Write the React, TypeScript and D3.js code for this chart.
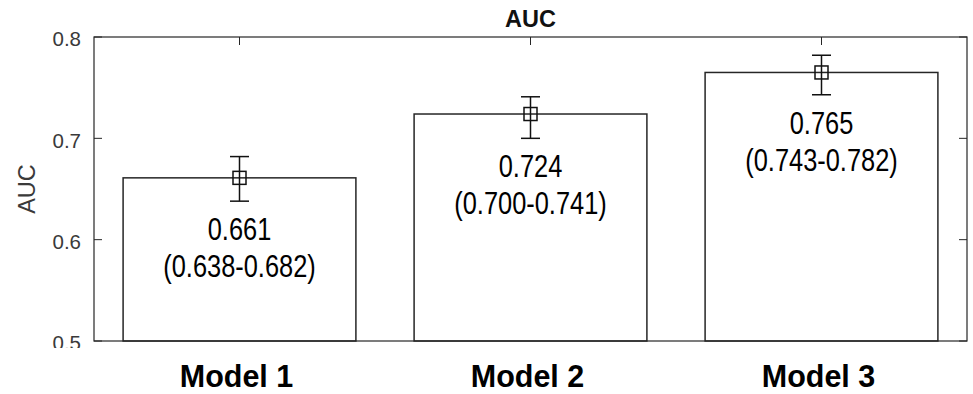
import React from "react";
import * as d3 from "d3";

// AUC per model with 95% confidence interval
const models = ["Model 1", "Model 2", "Model 3"];
const aucValues = [0.661, 0.724, 0.765];
const ciLower = [0.638, 0.7, 0.743];
const ciUpper = [0.682, 0.741, 0.782];
const yTicks = [0.5, 0.6, 0.7, 0.8];

const W = 973;
const H = 394;
const plot = { left: 94, right: 967, top: 37, bottom: 341 };

export default function App() {
  const x = d3
    .scaleLinear()
    .domain([0.5, models.length + 0.5])
    .range([plot.left, plot.right]);
  const y = d3.scaleLinear().domain([0.5, 0.8]).range([plot.bottom, plot.top]);
  const barW = x(1.4) - x(0.6);
  const fmtTick = d3.format(".1f");
  const fmtVal = d3.format(".3f");
  const axisColor = "#262626";
  const tickLen = 8;
  const capHalf = 9.5;
  const markerSize = 13;

  return (
    <svg
      width={W}
      height={H}
      viewBox={`0 0 ${W} ${H}`}
      style={{ position: "absolute", left: 0, top: 0, background: "#fff" }}
    >
      <rect x={0} y={0} width={W} height={H} fill="#fff" />

      {/* inward ticks on all four sides */}
      <g stroke={axisColor} strokeWidth={1}>
        {yTicks.map((t) => (
          <g key={`yt${t}`}>
            <line x1={plot.left} x2={plot.left + tickLen} y1={y(t)} y2={y(t)} />
            <line x1={plot.right} x2={plot.right - tickLen} y1={y(t)} y2={y(t)} />
          </g>
        ))}
        {models.map((m, i) => (
          <g key={`xt${m}`}>
            <line x1={x(i + 1)} x2={x(i + 1)} y1={plot.top} y2={plot.top + tickLen} />
            <line x1={x(i + 1)} x2={x(i + 1)} y1={plot.bottom} y2={plot.bottom - tickLen} />
          </g>
        ))}
      </g>

      {/* bars */}
      {models.map((m, i) => (
        <rect
          key={`bar${m}`}
          x={x(i + 1) - barW / 2}
          y={y(aucValues[i])}
          width={barW}
          height={y(0.5) - y(aucValues[i])}
          fill="#fff"
          stroke={axisColor}
          strokeWidth={1.5}
        />
      ))}

      {/* axes box */}
      <rect
        x={plot.left}
        y={plot.top}
        width={plot.right - plot.left}
        height={plot.bottom - plot.top}
        fill="none"
        stroke={axisColor}
        strokeWidth={1.2}
      />

      {/* error bars with square markers */}
      <g stroke="#111" strokeWidth={1.5} fill="none">
        {models.map((m, i) => {
          const cx = x(i + 1);
          return (
            <g key={`err${m}`}>
              <line x1={cx} x2={cx} y1={y(ciUpper[i])} y2={y(ciLower[i])} />
              <line x1={cx - capHalf} x2={cx + capHalf} y1={y(ciUpper[i])} y2={y(ciUpper[i])} />
              <line x1={cx - capHalf} x2={cx + capHalf} y1={y(ciLower[i])} y2={y(ciLower[i])} />
              <rect
                x={cx - markerSize / 2}
                y={y(aucValues[i]) - markerSize / 2}
                width={markerSize}
                height={markerSize}
              />
            </g>
          );
        })}
      </g>

      {/* value labels, set in a condensed face */}
      {models.map((m, i) => {
        const cx = x(i + 1);
        const base = y(ciLower[i]) + 39;
        return (
          <text
            key={`lab${m}`}
            transform={`translate(${cx}, ${base}) scale(0.82, 1)`}
            textAnchor="middle"
            fontFamily="'Liberation Sans', Arial, sans-serif"
            fontSize={31}
            fill="#000"
          >
            <tspan x={0} y={0}>
              {fmtVal(aucValues[i])}
            </tspan>
            <tspan x={0} y={37}>
              {`(${fmtVal(ciLower[i])}-${fmtVal(ciUpper[i])})`}
            </tspan>
          </text>
        );
      })}

      {/* y tick labels */}
      {yTicks.map((t) => (
        <text
          key={`yl${t}`}
          x={plot.left - 13}
          y={y(t) + 2}
          dy="0.35em"
          textAnchor="end"
          fontFamily="'Liberation Sans', Arial, sans-serif"
          fontSize={20.5}
          fill="#3a3a3a"
        >
          {fmtTick(t)}
        </text>
      ))}

      {/* y axis label */}
      <text
        transform={`translate(35, ${(plot.top + plot.bottom) / 2}) rotate(-90)`}
        textAnchor="middle"
        fontFamily="'Liberation Sans', Arial, sans-serif"
        fontSize={23.5}
        fill="#3a3a3a"
      >
        AUC
      </text>

      {/* title */}
      <text
        x={(plot.left + plot.right) / 2}
        y={27}
        textAnchor="middle"
        fontFamily="'Liberation Sans', Arial, sans-serif"
        fontWeight="bold"
        fontSize={23.5}
        fill="#111"
      >
        AUC
      </text>

      {/* lower band holding the category names */}
      <rect x={0} y={348} width={W} height={H - 348} fill="#fff" />
      {models.map((m, i) => (
        <text
          key={`cat${m}`}
          x={x(i + 1) - 3}
          y={387}
          textAnchor="middle"
          fontFamily="'Liberation Sans', Arial, sans-serif"
          fontWeight="bold"
          fontSize={30.5}
          fill="#000"
        >
          {m}
        </text>
      ))}
    </svg>
  );
}
